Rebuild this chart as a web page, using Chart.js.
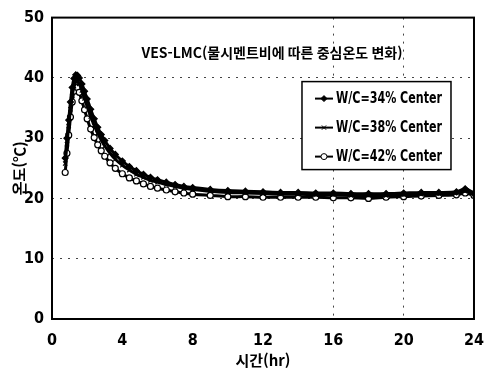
<!DOCTYPE html>
<html lang="ko">
<head>
<meta charset="UTF-8">
<title>중심온도 변화</title>
<script src="https://cdn.jsdelivr.net/npm/chart.js"></script>
<style>
  html, body { margin: 0; padding: 0; background: #fff; }
  #box { width: 496px; height: 370px; }
</style>
</head>
<body>
<div id="box"><canvas id="myChart" width="496" height="370"></canvas></div>
<script>
// 시간(hr)
const hours = [0.75, 0.85, 0.95, 1.05, 1.15, 1.25, 1.35, 1.45, 1.55, 1.7, 1.85, 2.0, 2.2, 2.4, 2.6, 2.8, 3.0, 3.3, 3.6, 4.0,
  4.4, 4.8, 5.2, 5.6, 6.0, 6.5, 7.0, 7.5, 8, 9, 10, 11, 12, 13, 14, 15, 16, 17, 18, 19, 20, 21, 22, 23, 23.5, 24];

// 중심온도 (℃)
const wc34 = [26.7, 30.0, 33.0, 36.0, 38.4, 39.9, 40.5, 40.4, 40.0, 39.0, 37.8, 36.5, 34.8, 33.2, 31.8, 30.6, 29.6, 28.3, 27.3, 26.2,
  25.3, 24.6, 24.0, 23.5, 23.1, 22.7, 22.3, 22.0, 21.8, 21.5, 21.3, 21.2, 21.1, 21.0, 21.0, 20.9, 20.9, 20.8, 20.8, 20.8, 20.9, 21.0, 21.0, 21.1, 21.6, 20.9];
const wc38 = [25.8, 29.0, 32.0, 34.8, 37.0, 38.6, 39.4, 39.5, 39.0, 37.9, 36.6, 35.3, 33.6, 32.1, 30.8, 29.7, 28.7, 27.5, 26.5, 25.5,
  24.7, 24.0, 23.5, 23.0, 22.7, 22.3, 22.0, 21.7, 21.5, 21.2, 21.0, 20.9, 20.8, 20.7, 20.7, 20.6, 20.6, 20.5, 20.5, 20.5, 20.6, 20.7, 20.8, 20.9, 21.2, 20.7];
const wc42 = [24.3, 27.5, 30.5, 33.5, 36.0, 37.8, 38.5, 38.4, 37.6, 36.2, 34.7, 33.2, 31.5, 30.1, 28.9, 27.9, 27.0, 25.9, 25.0, 24.1,
  23.4, 22.9, 22.4, 22.0, 21.7, 21.4, 21.1, 20.9, 20.7, 20.5, 20.3, 20.3, 20.2, 20.2, 20.2, 20.2, 20.1, 20.1, 20.0, 20.2, 20.3, 20.4, 20.5, 20.6, 20.9, 20.5];

const seriesNames = ['W/C=34% Center', 'W/C=38% Center', 'W/C=42% Center'];
const xTicks = [0, 4, 8, 12, 16, 20, 24];
const yTicks = [0, 10, 20, 30, 40, 50];
const chartTitle = 'VES-LMC(물시멘트비에 따른 중심온도 변화)';

const narrow = "'Liberation Sans Narrow', 'DejaVu Sans Condensed', sans-serif";
const kr = "'Noto Sans CJK KR', sans-serif";

function pts(ys) {
  return hours.map((h, i) => ({ x: h, y: ys[i] }));
}

// 그래프 테두리 + 제목 + 범례
const framePlugin = {
  id: 'frame',
  afterDraw(chart) {
    const ctx = chart.ctx;
    const a = chart.chartArea;
    ctx.save();
    ctx.strokeStyle = '#000';
    ctx.lineWidth = 2;
    ctx.strokeRect(a.left, a.top, a.right - a.left, a.bottom - a.top);

    // 제목
    ctx.fillStyle = '#000';
    ctx.font = 'bold 14px ' + kr;
    ctx.textAlign = 'center';
    ctx.textBaseline = 'middle';
    ctx.fillText(chartTitle, 272, 53, 265);

    // 범례
    const lx = a.right - 172, ly = a.top + 64, lw = 149, lh = 88;
    ctx.fillStyle = '#fff';
    ctx.fillRect(lx, ly, lw, lh);
    ctx.strokeStyle = '#000';
    ctx.lineWidth = 1.5;
    ctx.strokeRect(lx, ly, lw, lh);
    chart.data.datasets.forEach((ds, i) => {
      const y = ly + 17 + i * 29;
      ctx.strokeStyle = '#000';
      ctx.lineWidth = 2;
      ctx.beginPath();
      ctx.moveTo(lx + 13, y);
      ctx.lineTo(lx + 31, y);
      ctx.stroke();
      ctx.lineWidth = 1;
      ctx.fillStyle = ds.pointBackgroundColor;
      Chart.helpers.drawPoint(ctx, { pointStyle: ds.pointStyle, radius: 3, borderWidth: 1 }, lx + 22, y);
      ctx.fillStyle = '#000';
      ctx.font = 'bold 15px ' + narrow;
      ctx.textAlign = 'left';
      ctx.textBaseline = 'middle';
      ctx.fillText(ds.label, lx + 34, y + 1, 106);
    });
    ctx.restore();
  }
};

const config = {
  type: 'line',
  data: {
    datasets: [
      { label: seriesNames[0], data: pts(wc34), pointStyle: 'rectRot', pointBackgroundColor: '#000' },
      { label: seriesNames[1], data: pts(wc38), pointStyle: 'crossRot', pointBackgroundColor: '#000' },
      { label: seriesNames[2], data: pts(wc42), pointStyle: 'circle', pointBackgroundColor: '#fff' }
    ].map(d => Object.assign({
      borderColor: '#000',
      pointBorderColor: '#000',
      borderWidth: 3,
      pointRadius: 3,
      pointBorderWidth: 1.2,
      tension: 0.3,
      fill: false
    }, d))
  },
  options: {
    responsive: false,
    animation: false,
    layout: { padding: { top: 12, right: 12, left: 0, bottom: 0 } },
    plugins: { legend: { display: false }, tooltip: { enabled: false } },
    scales: {
      x: {
        type: 'linear',
        min: 0, max: 24,
        afterBuildTicks: s => { s.ticks = xTicks.map(v => ({ value: v })); },
        afterFit: s => { s.height = 51; },
        ticks: { color: '#000', padding: 12, font: { family: narrow, size: 16, weight: 'bold' } },
        grid: {
          drawTicks: false,
          color: c => (c.tick && (c.tick.value === 16 || c.tick.value === 20)) ? '#444' : 'transparent',
          lineWidth: 1
        },
        border: { display: false, dash: [2, 6] },
        title: { display: true, text: '시간(hr)', color: '#000', font: { family: kr, size: 15, weight: 'bold' }, padding: { top: 0, bottom: 1 } }
      },
      y: {
        min: 0, max: 50,
        afterBuildTicks: s => { s.ticks = yTicks.map(v => ({ value: v })); },
        afterFit: s => { s.width = 52; },
        ticks: { color: '#000', padding: 8, font: { family: narrow, size: 16, weight: 'bold' } },
        grid: {
          drawTicks: false,
          color: c => (c.tick && c.tick.value > 0 && c.tick.value < 50) ? '#444' : 'transparent',
          lineWidth: 1
        },
        border: { display: false, dash: [2, 6] },
        title: { display: true, text: '온도(℃)', color: '#000', font: { family: kr, size: 15, weight: 'bold' }, padding: { top: 10, bottom: 0 } }
      }
    }
  },
  plugins: [framePlugin]
};

const myChart = new Chart(document.querySelector('#myChart'), config);
</script>
</body>
</html>
